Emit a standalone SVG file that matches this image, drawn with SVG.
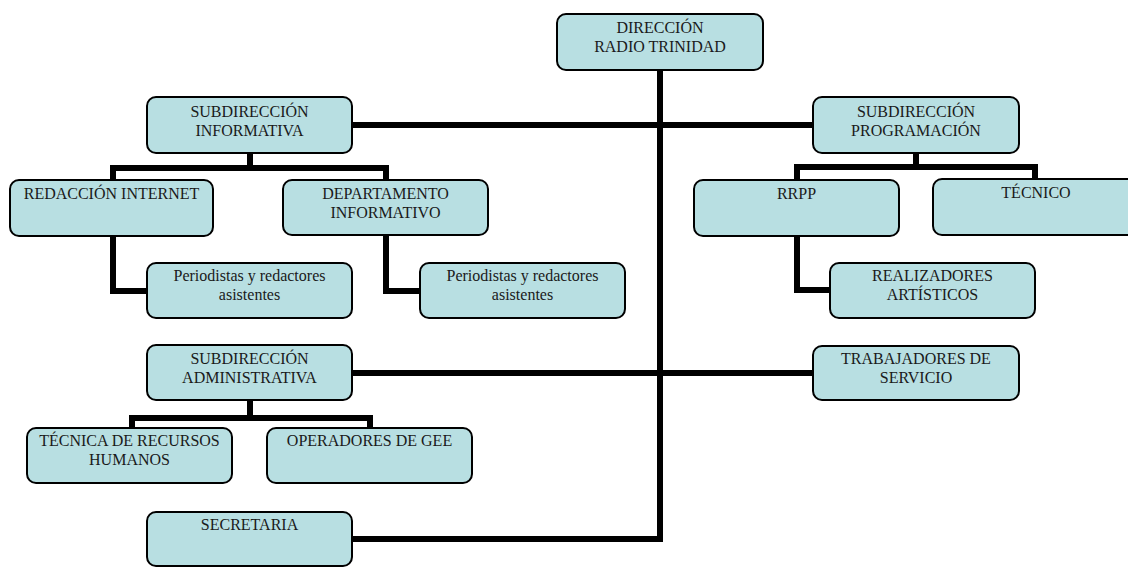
<svg xmlns="http://www.w3.org/2000/svg" width="1128" height="567" viewBox="0 0 1128 567">
<style>
.box{fill:#b8dfe2;stroke:#000;stroke-width:2}
.lbl{font-family:'Liberation Serif',serif;font-size:16px;fill:#1a1a1a;text-anchor:middle}
.con{fill:none;stroke:#000;stroke-width:6;stroke-linejoin:miter;stroke-linecap:butt}
</style>
<rect width="1128" height="567" fill="#fff"/>
<g id="connectors">
<polyline class="con" points="660,70 660,539 352,539"/>
<line class="con" x1="352" y1="125" x2="813" y2="125"/>
<line class="con" x1="352" y1="373" x2="813" y2="373"/>
<polyline class="con" points="250,153 250,168"/>
<polyline class="con" points="113,180 113,168 386,168 386,180"/>
<polyline class="con" points="916,153 916,167"/>
<polyline class="con" points="797,180 797,167 1035,167 1035,179"/>
<polyline class="con" points="250,400 250,418"/>
<polyline class="con" points="132,428 132,418 370,418 370,428"/>
<polyline class="con" points="113,236 113,291 147,291"/>
<polyline class="con" points="386,235 386,291 420,291"/>
<polyline class="con" points="797,236 797,290 830,290"/>
</g>
<g font-family="Liberation Serif, serif">
<g id="direccion">
<rect class="box" x="557" y="14" width="206" height="56" rx="9"/>
<text class="lbl" x="660" y="33">DIRECCIÓN</text>
<text class="lbl" x="660" y="52">RADIO TRINIDAD</text>
</g>
<g id="sub-informativa">
<rect class="box" x="147" y="97" width="205" height="56" rx="9"/>
<text class="lbl" x="249.5" y="117">SUBDIRECCIÓN</text>
<text class="lbl" x="249.5" y="136">INFORMATIVA</text>
</g>
<g id="sub-programacion">
<rect class="box" x="813" y="97" width="206" height="56" rx="9"/>
<text class="lbl" x="916" y="117">SUBDIRECCIÓN</text>
<text class="lbl" x="916" y="136">PROGRAMACIÓN</text>
</g>
<g id="redaccion-internet">
<rect class="box" x="10" y="180" width="203" height="56" rx="9"/>
<text class="lbl" x="111.5" y="199">REDACCIÓN INTERNET</text>
</g>
<g id="departamento-informativo">
<rect class="box" x="283" y="180" width="205" height="55" rx="9"/>
<text class="lbl" x="385.5" y="199">DEPARTAMENTO</text>
<text class="lbl" x="385.5" y="218">INFORMATIVO</text>
</g>
<g id="periodistas-1">
<rect class="box" x="147" y="263" width="205" height="55" rx="9"/>
<text class="lbl" x="249.5" y="281">Periodistas y redactores</text>
<text class="lbl" x="249.5" y="300">asistentes</text>
</g>
<g id="periodistas-2">
<rect class="box" x="420" y="263" width="205" height="55" rx="9"/>
<text class="lbl" x="522.5" y="281">Periodistas y redactores</text>
<text class="lbl" x="522.5" y="300">asistentes</text>
</g>
<g id="rrpp">
<rect class="box" x="694" y="180" width="205" height="56" rx="9"/>
<text class="lbl" x="796.5" y="199">RRPP</text>
</g>
<g id="tecnico">
<rect class="box" x="933" y="179" width="205" height="56" rx="9"/>
<text class="lbl" x="1036" y="198">TÉCNICO</text>
</g>
<g id="realizadores">
<rect class="box" x="830" y="263" width="205" height="55" rx="9"/>
<text class="lbl" x="932.5" y="281">REALIZADORES</text>
<text class="lbl" x="932.5" y="300">ARTÍSTICOS</text>
</g>
<g id="sub-administrativa">
<rect class="box" x="147" y="345" width="205" height="55" rx="9"/>
<text class="lbl" x="249.5" y="364">SUBDIRECCIÓN</text>
<text class="lbl" x="249.5" y="383">ADMINISTRATIVA</text>
</g>
<g id="trabajadores">
<rect class="box" x="813" y="346" width="206" height="54" rx="9"/>
<text class="lbl" x="916" y="364">TRABAJADORES DE</text>
<text class="lbl" x="916" y="383">SERVICIO</text>
</g>
<g id="tecnica-rrhh">
<rect class="box" x="27" y="428" width="205" height="55" rx="9"/>
<text class="lbl" x="129.5" y="446">TÉCNICA DE RECURSOS</text>
<text class="lbl" x="129.5" y="465">HUMANOS</text>
</g>
<g id="operadores">
<rect class="box" x="267" y="428" width="205" height="55" rx="9"/>
<text class="lbl" x="369.5" y="446">OPERADORES DE GEE</text>
</g>
<g id="secretaria">
<rect class="box" x="147" y="512" width="205" height="54" rx="9"/>
<text class="lbl" x="249.5" y="530">SECRETARIA</text>
</g>
</g>
</svg>
